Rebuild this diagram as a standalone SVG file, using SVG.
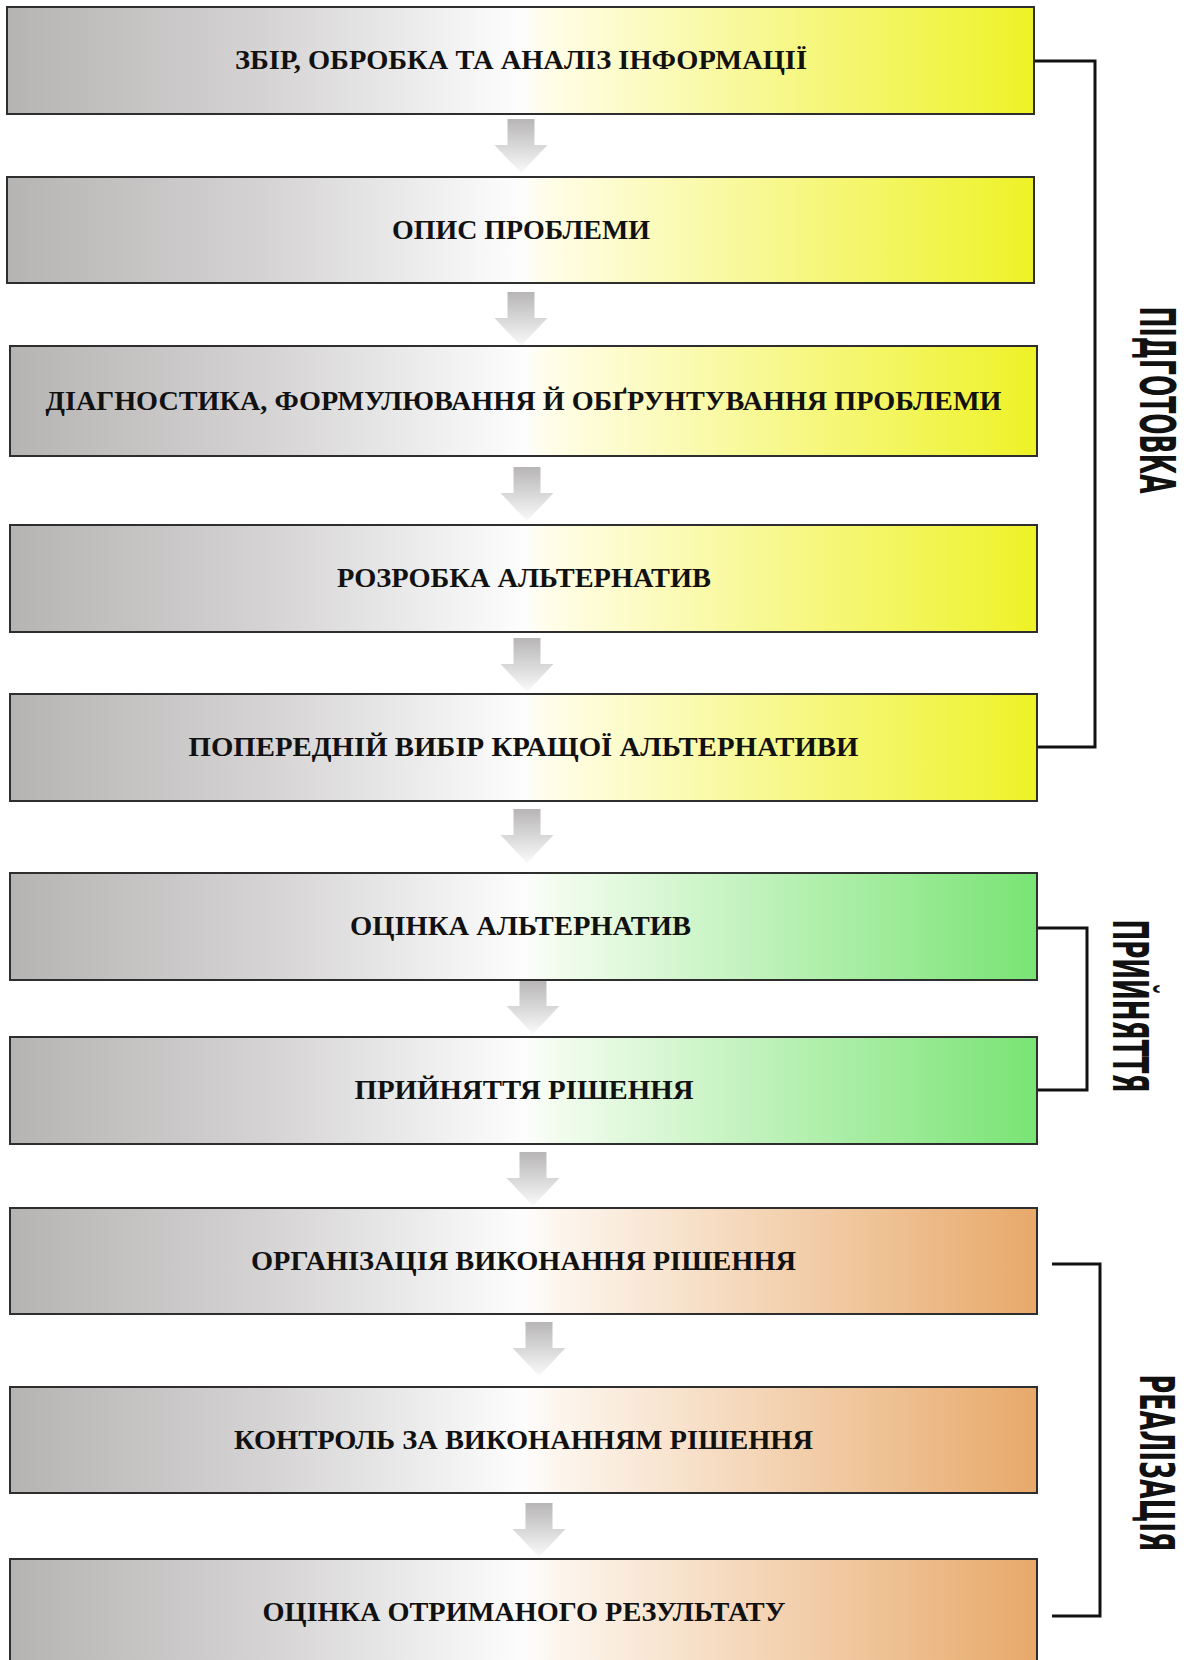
<svg xmlns="http://www.w3.org/2000/svg" width="1193" height="1660" viewBox="0 0 1193 1660">
<defs>
<linearGradient id="gY" x1="0" y1="0" x2="1" y2="0">
<stop offset="0" stop-color="#b6b3b3"/><stop offset="0.25" stop-color="#d5d3d3"/><stop offset="0.5" stop-color="#fdfdfd"/><stop offset="0.53" stop-color="#fffde6"/><stop offset="1" stop-color="#eef226"/>
</linearGradient>
<linearGradient id="gG" x1="0" y1="0" x2="1" y2="0">
<stop offset="0" stop-color="#b6b3b3"/><stop offset="0.25" stop-color="#d5d3d3"/><stop offset="0.5" stop-color="#fdfdfd"/><stop offset="0.53" stop-color="#f3fcef"/><stop offset="1" stop-color="#79e474"/>
</linearGradient>
<linearGradient id="gO" x1="0" y1="0" x2="1" y2="0">
<stop offset="0" stop-color="#b6b3b3"/><stop offset="0.25" stop-color="#d5d3d3"/><stop offset="0.5" stop-color="#fdfdfd"/><stop offset="0.53" stop-color="#fdf6ef"/><stop offset="1" stop-color="#e8a96a"/>
</linearGradient>
<linearGradient id="gA" x1="0" y1="0" x2="0" y2="1">
<stop offset="0" stop-color="#b7b5b5"/><stop offset="1" stop-color="#fafafa"/>
</linearGradient>
<path id="arr" d="M-13.5,0 H13.5 V26 H26.5 L0,54 L-26.5,26 H-13.5 Z" fill="url(#gA)"/>
</defs>
<style>
.box{stroke:#2e2e2e;stroke-width:2}
.lbl{font-family:"Liberation Serif","DejaVu Serif",serif;font-weight:bold;font-size:27px;fill:#111;text-anchor:middle}
.side{font-family:"Liberation Sans Narrow","DejaVu Sans Condensed","Liberation Sans",sans-serif;font-weight:bold;font-size:50px;fill:#111;text-anchor:middle}
.br{fill:none;stroke:#111;stroke-width:3}
</style>
<rect width="1193" height="1660" fill="#ffffff"/>
<g id="connectors">
<use href="#arr" x="521" y="119"/>
<use href="#arr" x="521" y="292"/>
<use href="#arr" x="527" y="467"/>
<use href="#arr" x="527" y="638"/>
<use href="#arr" x="527" y="809"/>
<use href="#arr" x="533" y="980"/>
<use href="#arr" x="533" y="1152"/>
<use href="#arr" x="539" y="1322"/>
<use href="#arr" x="539" y="1503"/>
<path class="br" d="M1034,61 H1095 V747 H1037"/>
<path class="br" d="M1037,928 H1087 V1090 H1037"/>
<path class="br" d="M1052,1264 H1100 V1616 H1052"/>
</g>
<g id="n1"><rect class="box" x="7" y="7" width="1027" height="107" fill="url(#gY)"/><text class="lbl" x="521" y="69" textLength="572" lengthAdjust="spacingAndGlyphs">ЗБІР, ОБРОБКА ТА АНАЛІЗ ІНФОРМАЦІЇ</text></g>
<g id="n2"><rect class="box" x="7" y="177" width="1027" height="106" fill="url(#gY)"/><text class="lbl" x="521" y="239" textLength="258" lengthAdjust="spacingAndGlyphs">ОПИС ПРОБЛЕМИ</text></g>
<g id="n3"><rect class="box" x="10" y="346" width="1027" height="110" fill="url(#gY)"/><text class="lbl" x="523.5" y="410" textLength="956" lengthAdjust="spacingAndGlyphs">ДІАГНОСТИКА, ФОРМУЛЮВАННЯ Й ОБҐРУНТУВАННЯ ПРОБЛЕМИ</text></g>
<g id="n4"><rect class="box" x="10" y="525" width="1027" height="107" fill="url(#gY)"/><text class="lbl" x="524" y="587" textLength="374" lengthAdjust="spacingAndGlyphs">РОЗРОБКА АЛЬТЕРНАТИВ</text></g>
<g id="n5"><rect class="box" x="10" y="694" width="1027" height="107" fill="url(#gY)"/><text class="lbl" x="523.5" y="756" textLength="670" lengthAdjust="spacingAndGlyphs">ПОПЕРЕДНІЙ ВИБІР КРАЩОЇ АЛЬТЕРНАТИВИ</text></g>
<g id="n6"><rect class="box" x="10" y="873" width="1027" height="107" fill="url(#gG)"/><text class="lbl" x="520.5" y="935" textLength="341" lengthAdjust="spacingAndGlyphs">ОЦІНКА АЛЬТЕРНАТИВ</text></g>
<g id="n7"><rect class="box" x="10" y="1037" width="1027" height="107" fill="url(#gG)"/><text class="lbl" x="524" y="1099" textLength="339" lengthAdjust="spacingAndGlyphs">ПРИЙНЯТТЯ РІШЕННЯ</text></g>
<g id="n8"><rect class="box" x="10" y="1208" width="1027" height="106" fill="url(#gO)"/><text class="lbl" x="523.5" y="1270" textLength="545" lengthAdjust="spacingAndGlyphs">ОРГАНІЗАЦІЯ ВИКОНАННЯ РІШЕННЯ</text></g>
<g id="n9"><rect class="box" x="10" y="1387" width="1027" height="106" fill="url(#gO)"/><text class="lbl" x="523.5" y="1449" textLength="579" lengthAdjust="spacingAndGlyphs">КОНТРОЛЬ ЗА ВИКОНАННЯМ РІШЕННЯ</text></g>
<g id="n10"><rect class="box" x="10" y="1559" width="1027" height="106" fill="url(#gO)"/><text class="lbl" x="524" y="1621" textLength="523" lengthAdjust="spacingAndGlyphs">ОЦІНКА ОТРИМАНОГО РЕЗУЛЬТАТУ</text></g>
<g id="phase1"><text class="side" transform="translate(1158,400) rotate(90)" x="0" y="18" textLength="187" lengthAdjust="spacingAndGlyphs">ПІДГОТОВКА</text></g>
<g id="phase2"><text class="side" transform="translate(1131,1006) rotate(90)" x="0" y="18" textLength="173" lengthAdjust="spacingAndGlyphs">ПРИЙНЯТТЯ</text></g>
<g id="phase3"><text class="side" style="font-size:48px" transform="translate(1157,1463) rotate(90)" x="0" y="17" textLength="177" lengthAdjust="spacingAndGlyphs">РЕАЛІЗАЦІЯ</text></g>
</svg>
